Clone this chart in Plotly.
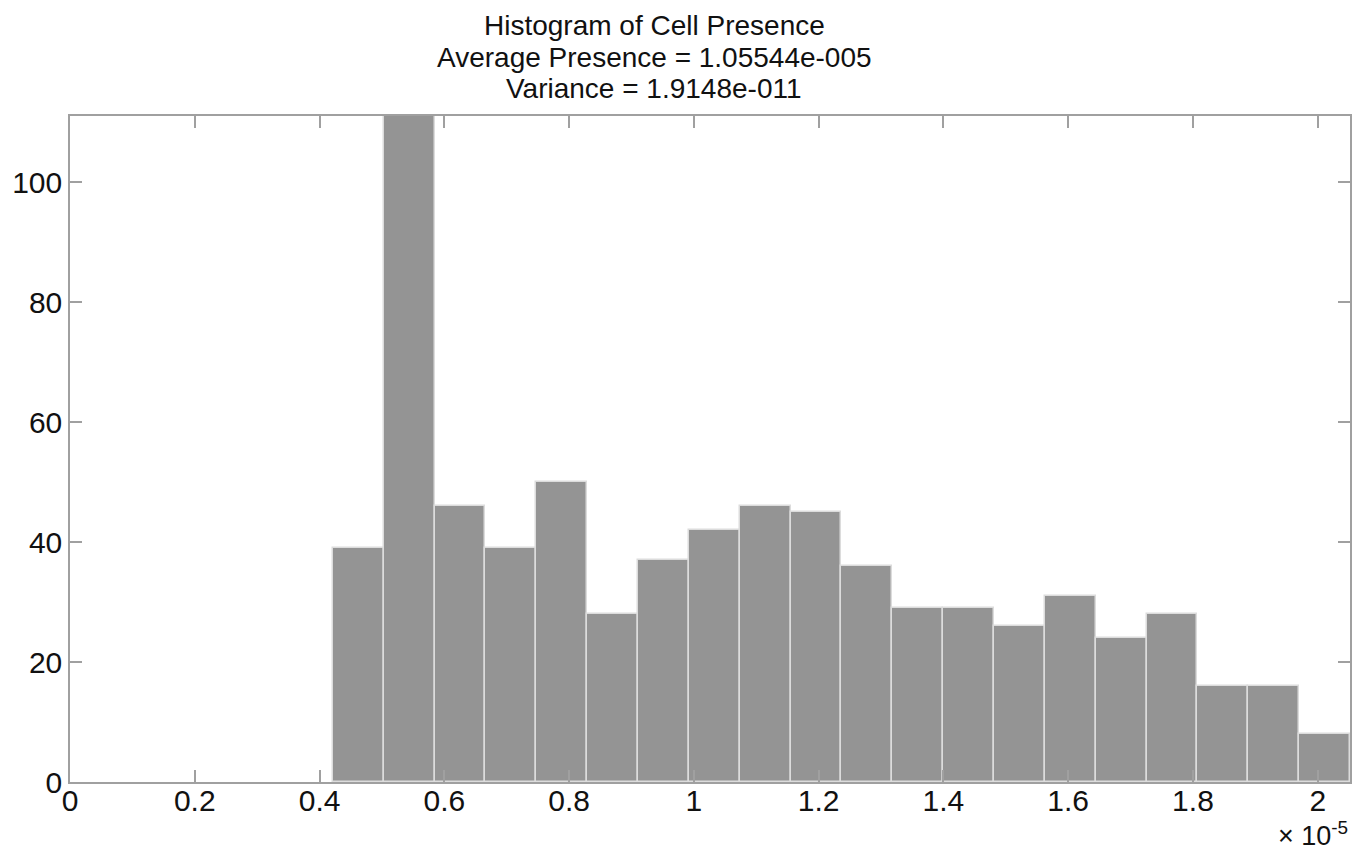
import plotly.graph_objects as go

# Histogram data (x in units of 1e-5)
bin_start = 0.4213
bin_width = 0.08152
counts = [39, 113, 46, 39, 50, 28, 37, 42, 46, 45, 36, 29, 29, 26, 31, 24, 28, 16, 16, 8]
x_ticks = [0, 0.2, 0.4, 0.6, 0.8, 1.0, 1.2, 1.4, 1.6, 1.8, 2.0]
x_tick_labels = ["0", "0.2", "0.4", "0.6", "0.8", "1", "1.2", "1.4", "1.6", "1.8", "2"]
y_ticks = [0, 20, 40, 60, 80, 100]
title_lines = ["Histogram of Cell Presence",
               "Average Presence = 1.05544e-005",
               "Variance = 1.9148e-011"]

centers = [bin_start + bin_width * (i + 0.5) for i in range(len(counts))]
x_max = bin_start + bin_width * len(counts)

FONT = "Liberation Sans, Arial, sans-serif"
PLOT_H = 665.7

fig = go.Figure()
fig.add_trace(go.Bar(
    x=centers, y=counts, width=[bin_width] * len(counts),
    marker=dict(color="#949494", line=dict(color="#dcdcdc", width=1.5)),
    hoverinfo="x+y",
))

axis_common = dict(
    showline=True, linecolor="#a0a0a0", linewidth=1.5, mirror="ticks",
    ticks="inside", ticklen=12, tickwidth=1.5, tickcolor="#a0a0a0",
    showgrid=False, zeroline=False,
    tickfont=dict(family=FONT, size=30, color="#111"),
)

fig.update_layout(
    width=1371, height=861,
    margin=dict(l=68, r=21, t=116, b=79),
    paper_bgcolor="white", plot_bgcolor="white",
    showlegend=False, bargap=0,
    font=dict(family=FONT, color="#111"),
    xaxis=dict(range=[0, x_max], tickvals=x_ticks, ticktext=x_tick_labels,
               ticklabelstandoff=-9, **axis_common),
    yaxis=dict(range=[0, 111], tickvals=y_ticks, **axis_common),
)

title_x = 0.4565
title_offsets = [90, 58.5, 27]
for line, off in zip(title_lines, title_offsets):
    fig.add_annotation(
        text=line, xref="paper", yref="paper", x=title_x,
        y=1 + off / PLOT_H, yanchor="middle", xanchor="center",
        showarrow=False, font=dict(family=FONT, size=28, color="#111"),
    )

fig.add_annotation(
    text="× 10<sup>-5</sup>", xref="paper", yref="paper", x=1.0, xanchor="right",
    y=-(52 / PLOT_H), yanchor="middle", showarrow=False,
    font=dict(family=FONT, size=27, color="#111"),
)

fig.write_html("out.html")
